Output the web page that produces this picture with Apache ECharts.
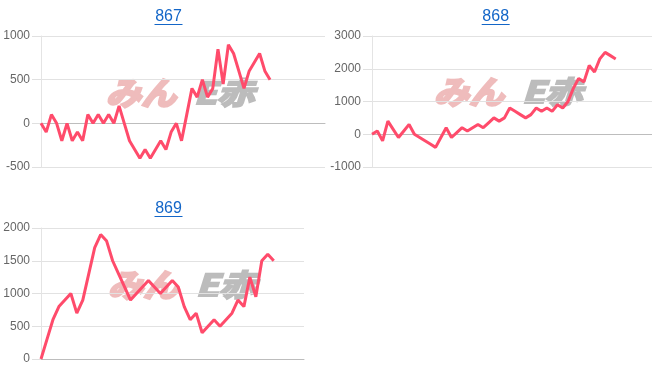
<!DOCTYPE html>
<html><head><meta charset="utf-8">
<script src="https://cdn.jsdelivr.net/npm/echarts@6/dist/echarts.min.js"></script>
<style>html,body{margin:0;padding:0;background:#fff}#c{width:652px;height:382px}</style>
</head><body><div id="c"></div>
<script>
var titles = ['867', '868', '869'];
var values867 = [0,-100,100,0,-200,0,-200,-100,-200,100,0,100,0,100,0,200,0,-200,-300,-400,-300,-400,-300,-200,-300,-100,0,-200,100,400,300,500,300,400,850,450,900,800,600,400,600,700,800,600,500];
var values868 = [0,100,-200,400,150,-100,100,300,0,-100,-200,-300,-400,-100,200,-100,50,200,100,200,300,200,350,500,400,500,800,700,600,500,600,800,700,800,700,900,800,1000,1400,1700,1600,2100,1900,2300,2500,2400,2300];
var values869 = [0,300,600,800,900,1000,700,900,1300,1700,1900,1800,1500,1300,1100,900,1000,1100,1200,1100,1000,1100,1200,1100,800,600,700,400,500,600,500,600,700,900,800,1250,950,1500,1600,1500];
var yTicks867 = [-500, 1000, 500];
var yTicks868 = [-1000, 3000, 1000];
var yTicks869 = [0, 2000, 500];

var seriesVals = [values867, values868, values869];
var yRanges = [yTicks867, yTicks868, yTicks869];
var grids = [
  {left: 41, top: 36, width: 284, height: 131},
  {left: 372, top: 36, width: 280, height: 131},
  {left: 41, top: 228, width: 263, height: 131}
];
var xMax = [54.56, 52.85, 44.07];
var titlePos = [[168.5, 17], [495.7, 17], [168.5, 209]];
var wmPos = [[141, 93], [469, 92], [143, 285]];

var chart = echarts.init(document.getElementById('c'), null, {renderer: 'canvas'});
var xAxes = [], yAxes = [], series = [], graphics = [];
for (var k = 0; k < 3; k++) {
  xAxes.push({
    gridIndex: k, type: 'value', min: 0, max: xMax[k],
    axisLabel: {show: false}, axisTick: {show: false}, splitLine: {show: false},
    axisLine: {show: true, onZero: true, lineStyle: {color: '#bdbdbd', width: 1}}
  });
  yAxes.push({
    gridIndex: k, type: 'value', min: yRanges[k][0], max: yRanges[k][1], interval: yRanges[k][2],
    axisLine: {show: true, lineStyle: {color: '#e4e4e4'}},
    axisTick: {show: true, length: 9, lineStyle: {color: '#e0e0e0'}},
    axisLabel: {color: '#666', fontSize: 12, margin: 11, fontFamily: 'Liberation Sans, Arial, sans-serif',
      formatter: function (v) { return String(v); }},
    splitLine: {show: true, lineStyle: {color: '#e2e2e2', width: 1}}
  });
  series.push({
    type: 'line', xAxisIndex: k, yAxisIndex: k, showSymbol: false, symbol: 'none',
    lineStyle: {color: '#ff4b6b', width: 3}, z: 5, animation: false,
    data: seriesVals[k].map(function (v, i) { return [i, v]; })
  });
  graphics.push({
    type: 'text', x: titlePos[k][0], y: titlePos[k][1], z: 10,
    style: {text: titles[k], fill: '#1366c8', font: '16px "Liberation Sans", Arial, sans-serif', textAlign: 'center', textVerticalAlign: 'middle'}
  });
  graphics.push({
    type: 'line', z: 10,
    shape: {x1: titlePos[k][0] - 14, y1: titlePos[k][1] + 7.5, x2: titlePos[k][0] + 14, y2: titlePos[k][1] + 7.5},
    style: {stroke: '#1366c8', lineWidth: 1}
  });
  graphics.push({
    type: 'text', x: wmPos[k][0], y: wmPos[k][1], z: -10, scaleX: 1.1,
    style: {text: 'みん', fill: '#efbcbc', stroke: '#efbcbc', lineWidth: 2.5, font: 'italic bold 32px "Noto Sans CJK JP", sans-serif', textAlign: 'center', textVerticalAlign: 'middle'}
  });
  graphics.push({
    type: 'text', x: wmPos[k][0] + 83, y: wmPos[k][1], z: -10, scaleX: 1.25,
    style: {text: 'E赤', fill: '#bcbcbc', stroke: '#bcbcbc', lineWidth: 2, font: 'italic bold 30px "Noto Sans CJK JP", sans-serif', textAlign: 'center', textVerticalAlign: 'middle'}
  });
}
chart.setOption({
  animation: false,
  grid: grids,
  xAxis: xAxes,
  yAxis: yAxes,
  series: series,
  graphic: graphics
});
</script></body></html>
